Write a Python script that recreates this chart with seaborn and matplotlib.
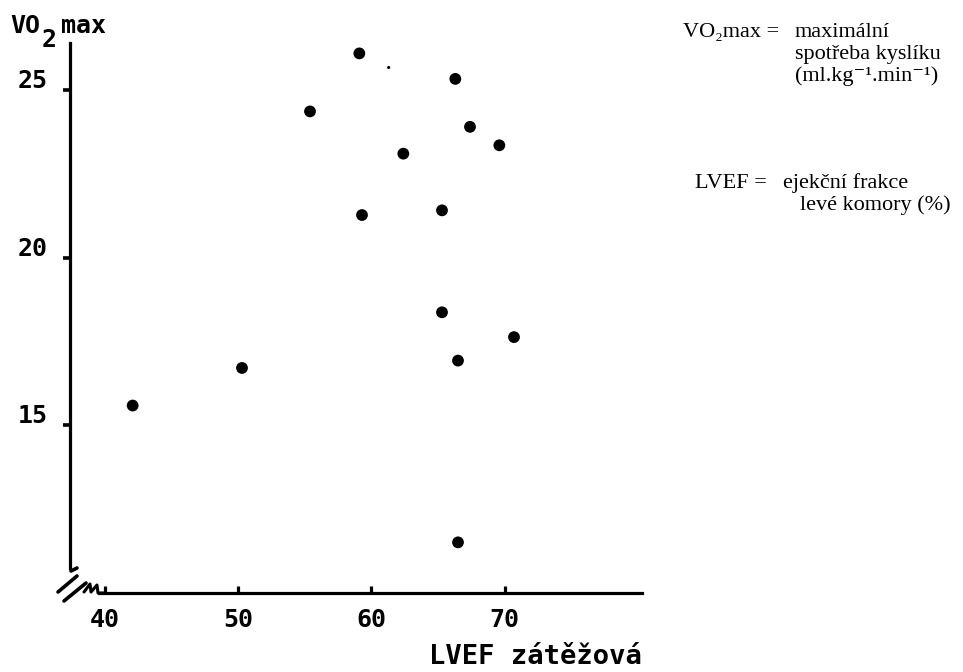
import matplotlib
matplotlib.use("Agg")
import matplotlib.pyplot as plt
import matplotlib.transforms as mtransforms
from matplotlib.lines import Line2D
import seaborn as sns
import pandas as pd

# ---- data ----
lvef = [42.1, 50.3, 55.4, 59.1, 59.3, 62.4, 65.3, 65.3, 66.3, 66.5, 66.5, 67.4, 69.6, 70.7]
vo2max = [15.59, 16.71, 24.36, 26.09, 21.27, 23.10, 21.41, 18.37, 25.33, 16.93, 11.51, 23.90, 23.35, 17.63]
speck_x = [61.3]
speck_y = [25.67]
x_ticks = [40, 50, 60, 70]
x_ticklabels = ["40", "50", "60", "70"]
y_ticks = [15, 20, 25]
y_ticklabels = ["15", "20", "25"]

W, H = 963, 672
sns.set_theme(style="white")
plt.rcParams["font.family"] = ["DejaVu Sans"]

fig = plt.figure(figsize=(W / 100, H / 100), dpi=100)
fig.patch.set_facecolor("white")
ax = fig.add_axes([70 / W, 79 / H, 572 / W, 550 / H])
ax.set_facecolor("white")

df = pd.DataFrame({"LVEF": lvef, "VO2max": vo2max})
sns.scatterplot(data=df, x="LVEF", y="VO2max", color="black", s=72,
                edgecolor="none", linewidth=0, ax=ax, zorder=3)
sns.scatterplot(x=speck_x, y=speck_y, color="black", s=5, edgecolor="none",
                linewidth=0, ax=ax, zorder=3)

ax.set_xlim(37.4, 80.3)
ax.set_ylim(10.0, 26.4)
ax.set_xlabel("")
ax.set_ylabel("")

for s in ["top", "right"]:
    ax.spines[s].set_visible(False)
for s in ["left", "bottom"]:
    ax.spines[s].set_color("black")
    ax.spines[s].set_linewidth(2.3)
ax.spines["left"].set_bounds(10.75, 26.4)
ax.spines["bottom"].set_bounds(39.6, 80.3)

mono = dict(family="DejaVu Sans Mono", weight="bold", color="black")

ax.set_xticks(x_ticks)
ax.set_xticklabels(x_ticklabels, fontsize=18, **mono)
ax.tick_params(axis="x", direction="in", length=5, width=2.3, color="black",
               pad=11, bottom=True)
ax.set_yticks(y_ticks)
ax.set_yticklabels([""] * len(y_ticks))
ax.tick_params(axis="y", direction="out", length=5, width=2.6, color="black",
               left=True, pad=2)

# y tick labels, slightly above their ticks (as in the original)
ytrans = mtransforms.offset_copy(ax.get_yaxis_transform(), fig=fig,
                                 x=-22, y=9, units="dots")
for v, lab in zip(y_ticks, y_ticklabels):
    ax.text(0, v, lab, transform=ytrans, ha="right", va="center",
            fontsize=18, **mono)

def px(x, y):
    return (x / W, 1 - y / H)

# axis label VO2max (2 set lower, same size)
for (x, y, t) in [(10, 33, "VO"), (42, 47, "2"), (61, 33, "max")]:
    fig.text(*px(x, y), t, ha="left", va="baseline", fontsize=18, **mono)

# x axis label
fig.text(*px(642, 664), "LVEF zátěžová", ha="right", va="baseline",
         fontsize=19.5, **mono)

# axis break marks
def seg(pts, lw=2.6):
    xs = [p[0] / W for p in pts]
    ys = [1 - p[1] / H for p in pts]
    fig.add_artist(Line2D(xs, ys, color="black", lw=lw,
                          transform=fig.transFigure, solid_capstyle="round"))

seg([(71, 571), (77, 568)])
seg([(58, 592), (77, 576)])
seg([(64, 601), (86, 583)])
seg([(84, 592), (90, 584), (91, 592), (97, 585), (98, 593), (104, 593)], lw=2.2)

# right-hand legend text (serif)
serif = dict(family=["Liberation Serif", "DejaVu Serif"], fontsize=16, color="black")
fig.text(*px(779, 37), "VO₂max =", ha="right", va="baseline", **serif)
fig.text(*px(795, 37), "maximální", ha="left", va="baseline", **serif)
fig.text(*px(795, 59), "spotřeba kyslíku", ha="left", va="baseline", **serif)
fig.text(*px(795, 81), "(ml.kg⁻¹.min⁻¹)", ha="left", va="baseline", **serif)
fig.text(*px(767, 188), "LVEF =", ha="right", va="baseline", **serif)
fig.text(*px(783, 188), "ejekční frakce", ha="left", va="baseline", **serif)
fig.text(*px(800, 210), "levé komory (%)", ha="left", va="baseline", **serif)

fig.savefig("out.png", dpi=100, facecolor="white")
